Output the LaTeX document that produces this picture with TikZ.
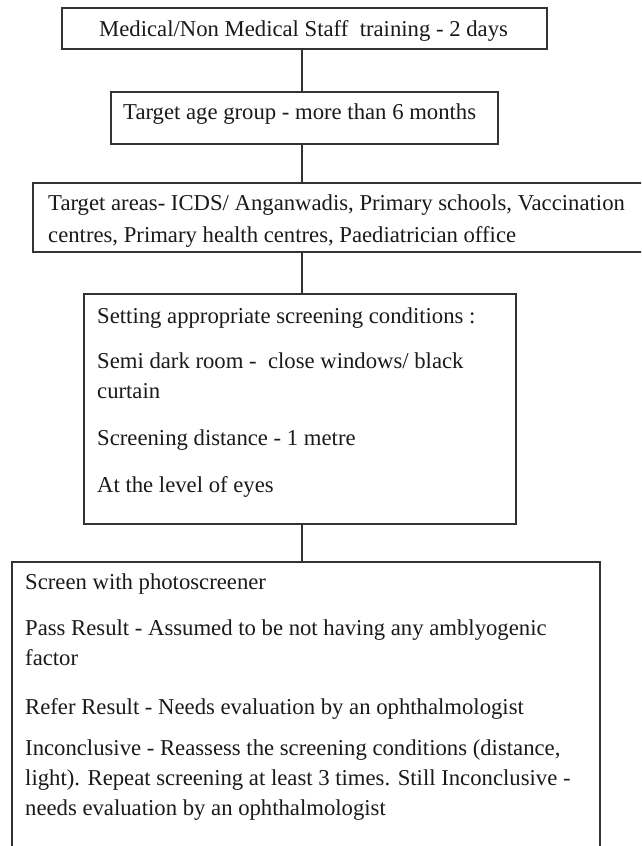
\documentclass[tikz,border=0pt]{standalone}
\usepackage{fontspec}
\setmainfont{Liberation Serif}
\definecolor{linecol}{HTML}{333333}
\definecolor{txtcol}{HTML}{1A1A1A}
\begin{document}
\begin{tikzpicture}[x=1pt,y=-1pt,
  box/.style={draw=linecol, line width=1.1pt, rectangle, inner sep=0pt, outer sep=0pt, anchor=north west},
  txt/.style={anchor=base west, inner sep=0pt, text=txtcol, font=\fontsize{22.7}{30}\selectfont},
  conn/.style={draw=linecol, line width=1.1pt}]
\useasboundingbox (0,0) rectangle (641,846);
\clip (0,0) rectangle (641,846);
\fill[white] (0,0) rectangle (641,846);
\coordinate (cx) at (302,0);
% boxes
\node[box, minimum width=485pt, minimum height=41pt] (b1) at (62,8) {};
\node[box, minimum width=387pt, minimum height=52pt] (b2) at (111,92) {};
\node[box, minimum width=640pt, minimum height=69pt] (b3) at (33,183) {};
\node[box, minimum width=432pt, minimum height=230pt] (b4) at (84,294) {};
\node[box, minimum width=588pt, minimum height=300pt] (b5) at (12,562) {};
% connectors
\draw[conn] (b1.south -| cx) -- (b2.north -| cx);
\draw[conn] (b2.south -| cx) -- (b3.north -| cx);
\draw[conn] (b3.south -| cx) -- (b4.north -| cx);
\draw[conn] (b4.south -| cx) -- (b5.north -| cx);
% texts
\node[txt] (t1) at (99,36) {Medical/Non Medical Staff\ \ training - 2 days};
\node[txt] (t2) at (123,119) {Target age group - more than 6 months};
\node[txt] (t3a) at (48,210) {Target areas- ICDS/ Anganwadis, Primary schools, Vaccination};
\node[txt] (t3b) at (48,242) {centres, Primary health centres, Paediatrician office};
\node[txt] (t4a) at (97,323) {Setting appropriate screening conditions :};
\node[txt] (t4b) at (97,368) {Semi dark room -\ \ close windows/ black};
\node[txt] (t4c) at (97,398) {curtain};
\node[txt] (t4d) at (97,445) {Screening distance - 1 metre};
\node[txt] (t4e) at (97,492) {At the level of eyes};
\node[txt] (t5a) at (25,589) {Screen with photoscreener};
\node[txt] (t5b) at (25,635) {Pass Result - Assumed to be not having any amblyogenic};
\node[txt] (t5c) at (25,665) {factor};
\node[txt] (t5d) at (25,714) {Refer Result - Needs evaluation by an ophthalmologist};
\node[txt] (t5e) at (25,755) {Inconclusive - Reassess the screening conditions (distance,};
\node[txt] (t5f) at (25,785) {light). Repeat screening at least 3 times. Still Inconclusive -};
\node[txt] (t5g) at (25,815) {needs evaluation by an ophthalmologist};
\end{tikzpicture}
\end{document}
